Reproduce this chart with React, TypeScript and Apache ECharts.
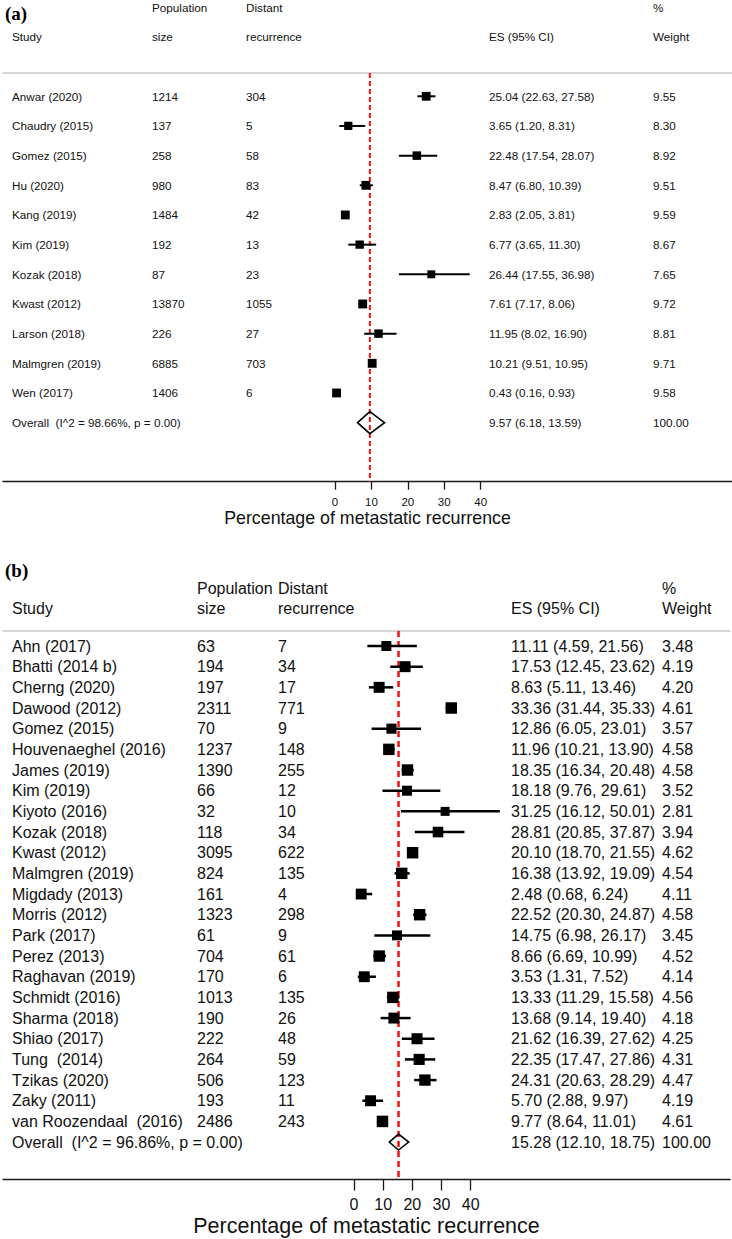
import React, { useEffect, useRef } from "react";
import * as echarts from "echarts";

// ---------- Panel (a) data ----------
const studiesA = [
  "Anwar (2020)", "Chaudry (2015)", "Gomez (2015)", "Hu (2020)", "Kang (2019)", "Kim (2019)",
  "Kozak (2018)", "Kwast (2012)", "Larson (2018)", "Malmgren (2019)", "Wen (2017)",
];
const sizesA = [1214, 137, 258, 980, 1484, 192, 87, 13870, 226, 6885, 1406];
const recurA = [304, 5, 58, 83, 42, 13, 23, 1055, 27, 703, 6];
const esA = [25.04, 3.65, 22.48, 8.47, 2.83, 6.77, 26.44, 7.61, 11.95, 10.21, 0.43];
const lowA = [22.63, 1.2, 17.54, 6.8, 2.05, 3.65, 17.55, 7.17, 8.02, 9.51, 0.16];
const highA = [27.58, 8.31, 28.07, 10.39, 3.81, 11.3, 36.98, 8.06, 16.9, 10.95, 0.93];
const weightA = [9.55, 8.3, 8.92, 9.51, 9.59, 8.67, 7.65, 9.72, 8.81, 9.71, 9.58];
const overallLabelA = "Overall  (I^2 = 98.66%, p = 0.00)";
const overallA = [9.57, 6.18, 13.59];
const overallWeightA = "100.00";

// ---------- Panel (b) data ----------
const studiesB = [
  "Ahn (2017)", "Bhatti (2014 b)", "Cherng (2020)", "Dawood (2012)", "Gomez (2015)",
  "Houvenaeghel (2016)", "James (2019)", "Kim (2019)", "Kiyoto (2016)", "Kozak (2018)",
  "Kwast (2012)", "Malmgren (2019)", "Migdady (2013)", "Morris (2012)", "Park (2017)",
  "Perez (2013)", "Raghavan (2019)", "Schmidt (2016)", "Sharma (2018)", "Shiao (2017)",
  "Tung  (2014)", "Tzikas (2020)", "Zaky (2011)", "van Roozendaal  (2016)",
];
const sizesB = [63, 194, 197, 2311, 70, 1237, 1390, 66, 32, 118, 3095, 824, 161, 1323, 61, 704, 170, 1013, 190, 222, 264, 506, 193, 2486];
const recurB = [7, 34, 17, 771, 9, 148, 255, 12, 10, 34, 622, 135, 4, 298, 9, 61, 6, 135, 26, 48, 59, 123, 11, 243];
const esB = [11.11, 17.53, 8.63, 33.36, 12.86, 11.96, 18.35, 18.18, 31.25, 28.81, 20.1, 16.38, 2.48, 22.52, 14.75, 8.66, 3.53, 13.33, 13.68, 21.62, 22.35, 24.31, 5.7, 9.77];
const lowB = [4.59, 12.45, 5.11, 31.44, 6.05, 10.21, 16.34, 9.76, 16.12, 20.85, 18.7, 13.92, 0.68, 20.3, 6.98, 6.69, 1.31, 11.29, 9.14, 16.39, 17.47, 20.63, 2.88, 8.64];
const highB = [21.56, 23.62, 13.46, 35.33, 23.01, 13.9, 20.48, 29.61, 50.01, 37.87, 21.55, 19.09, 6.24, 24.87, 26.17, 10.99, 7.52, 15.58, 19.4, 27.62, 27.86, 28.29, 9.97, 11.01];
const weightB = [3.48, 4.19, 4.2, 4.61, 3.57, 4.58, 4.58, 3.52, 2.81, 3.94, 4.62, 4.54, 4.11, 4.58, 3.45, 4.52, 4.14, 4.56, 4.18, 4.25, 4.31, 4.47, 4.19, 4.61];
const overallLabelB = "Overall  (I^2 = 96.86%, p = 0.00)";
const overallB = [15.28, 12.1, 18.75];
const overallWeightB = "100.00";

// ---------- Shared labels ----------
const tickValues = [0, 10, 20, 30, 40];
const axisTitle = "Percentage of metastatic recurrence";
const headerTop = ["Population", "Distant", "%"];
const headerBottom = ["Study", "size", "recurrence", "ES (95% CI)", "Weight"];

const SANS = "'Liberation Sans', Arial, sans-serif";
const SERIF = "'Liberation Serif', 'Times New Roman', serif";
const INK = "#111111";

type Layout = {
  left: number; right: number; top: number; bottom: number;
  xmin: number; xmax: number; ymin: number; ymax: number;
  cols: number[]; font: number; titleFont: number; tickFont: number;
  tickLen: number; labelMargin: number; nameGap: number;
  sqK: number; whisker: number; diamondH: number; dash: number[]; dashW: number;
  panelLabel: string; panelLabelY: number; headTopY: number; headBotY: number;
};

const layoutA: Layout = {
  left: 3, right: 732, top: 73, bottom: 481.7,
  xmin: -91.15, xmax: 109, ymin: -0.785, ymax: 12.99,
  cols: [12, 152, 246, 489, 653], font: 11.7, titleFont: 17.8, tickFont: 11.5,
  tickLen: 8, labelMargin: 14, nameGap: 27,
  sqK: 2.85, whisker: 2, diamondH: 11, dash: [5, 3], dashW: 2,
  panelLabel: "(a)", panelLabelY: 13, headTopY: 7, headBotY: 36,
};

const layoutB: Layout = {
  left: 3, right: 730, top: 631, bottom: 1179.5,
  xmin: -120.3, xmax: 128.9, ymin: -0.726, ymax: 25.81,
  cols: [12, 197, 278, 511, 662], font: 16, titleFont: 21.5, tickFont: 16,
  tickLen: 11, labelMargin: 17, nameGap: 35,
  sqK: 5.35, whisker: 2.5, diamondH: 8, dash: [6, 4], dashW: 2.5,
  panelLabel: "(b)", panelLabelY: 570, headTopY: 588, headBotY: 608,
};

const fmt = (v: number) => v.toFixed(2);

function buildPanel(
  idx: number, L: Layout,
  studies: string[], sizes: number[], recur: number[], es: number[], low: number[], high: number[], weight: number[],
  overallLabel: string, overall: number[], overallWeight: string,
) {
  const n = studies.length;
  const grid = { left: L.left, top: L.top, width: L.right - L.left, height: L.bottom - L.top };
  const xAxes = [
    {
      type: "value", gridIndex: idx, position: "bottom", min: L.xmin, max: L.xmax,
      splitLine: { show: false },
      axisLine: { show: true, onZero: false, lineStyle: { color: "#1a1a1a", width: 1.3 } },
      axisTick: { show: true, customValues: tickValues, length: L.tickLen, lineStyle: { color: "#1a1a1a", width: 1.3 } },
      axisLabel: { show: true, customValues: tickValues, fontSize: L.tickFont, fontFamily: SANS, color: INK, margin: L.labelMargin },
      name: axisTitle, nameLocation: "middle", nameGap: L.nameGap,
      nameTextStyle: { fontSize: L.titleFont, fontFamily: SANS, color: INK },
    },
    {
      type: "value", gridIndex: idx, position: "top", min: L.xmin, max: L.xmax,
      splitLine: { show: false },
      axisLine: { show: true, onZero: false, lineStyle: { color: "#c8c8c8", width: 1.5 } },
      axisTick: { show: false }, axisLabel: { show: false },
    },
  ];
  const yAxis = {
    type: "value", gridIndex: idx, inverse: true, min: L.ymin, max: L.ymax, show: false,
  };

  const markData = es.map((v, i) => [v, i, low[i], high[i], weight[i], 0]);
  markData.push([overall[0], n, overall[1], overall[2], 100, 1]);

  const texts: string[][] = studies.map((s, i) => [
    s, String(sizes[i]), String(recur[i]), `${fmt(es[i])} (${fmt(low[i])}, ${fmt(high[i])})`, fmt(weight[i]),
  ]);
  texts.push([overallLabel, "", "", `${fmt(overall[0])} (${fmt(overall[1])}, ${fmt(overall[2])})`, overallWeight]);

  const xAxisIndex = idx * 2;
  const series: any[] = [
    {
      type: "line", xAxisIndex, yAxisIndex: idx, symbol: "none", silent: true, z: 1,
      data: [[overall[0], L.ymin], [overall[0], L.ymax]],
      lineStyle: { color: "#ee1111", width: L.dashW, type: L.dash },
    },
    {
      type: "custom", xAxisIndex, yAxisIndex: idx, z: 3, silent: true,
      encode: { x: 0, y: 1 },
      data: markData,
      renderItem: (_p: any, api: any) => {
        const v = api.value(0), row = api.value(1), lo = api.value(2), hi = api.value(3), w = api.value(4);
        const isOverall = api.value(5) === 1;
        const [cx, cy] = api.coord([v, row]);
        const xl = api.coord([lo, row])[0];
        const xh = api.coord([hi, row])[0];
        if (isOverall) {
          const h = L.diamondH;
          return {
            type: "polygon",
            shape: { points: [[xl, cy], [cx, cy - h], [xh, cy], [cx, cy + h]] },
            style: { fill: "none", stroke: "#000", lineWidth: 1.6 },
          };
        }
        const s = L.sqK * Math.sqrt(w);
        return {
          type: "group",
          children: [
            { type: "line", shape: { x1: xl, y1: cy, x2: xh, y2: cy }, style: { stroke: "#000", lineWidth: L.whisker } },
            { type: "rect", shape: { x: cx - s / 2, y: cy - s / 2, width: s, height: s }, style: { fill: "#000" } },
          ],
        };
      },
    },
    {
      type: "custom", xAxisIndex, yAxisIndex: idx, z: 4, silent: true,
      encode: { x: 0, y: 1 },
      data: texts.map((_, i) => [0, i]),
      renderItem: (p: any, api: any) => {
        const i = p.dataIndex;
        const cy = api.coord([0, api.value(1)])[1];
        return {
          type: "group",
          children: texts[i].map((t, j) => ({
            type: "text", x: L.cols[j], y: cy,
            style: { text: t, fontSize: L.font, fontFamily: SANS, fill: INK, align: "left", verticalAlign: "middle" },
          })),
        };
      },
    },
  ];

  const txt = (text: string, x: number, y: number) => ({
    type: "text", x, y, silent: true,
    style: { text, fontSize: L.font, fontFamily: SANS, fill: INK, align: "left", verticalAlign: "middle" },
  });
  const graphics: any[] = [
    {
      type: "text", x: 5, y: L.panelLabelY, silent: true,
      style: { text: L.panelLabel, fontSize: 19, fontWeight: "bold", fontFamily: SERIF, fill: "#000", align: "left", verticalAlign: "middle" },
    },
    txt(headerTop[0], L.cols[1], L.headTopY),
    txt(headerTop[1], L.cols[2], L.headTopY),
    txt(headerTop[2], L.cols[4], L.headTopY),
    ...headerBottom.map((h, j) => txt(h, L.cols[j], L.headBotY)),
  ];

  return { grid, xAxes, yAxis, series, graphics };
}

export default function App() {
  const ref = useRef<HTMLDivElement>(null);
  useEffect(() => {
    if (!ref.current) return;
    const chart = echarts.init(ref.current, undefined, { renderer: "svg" });
    const a = buildPanel(0, layoutA, studiesA, sizesA, recurA, esA, lowA, highA, weightA, overallLabelA, overallA, overallWeightA);
    const b = buildPanel(1, layoutB, studiesB, sizesB, recurB, esB, lowB, highB, weightB, overallLabelB, overallB, overallWeightB);
    chart.setOption({
      animation: false,
      backgroundColor: "#ffffff",
      grid: [a.grid, b.grid],
      xAxis: [...a.xAxes, ...b.xAxes],
      yAxis: [a.yAxis, b.yAxis],
      series: [...a.series, ...b.series],
      graphic: [...a.graphics, ...b.graphics],
    } as any);
    return () => chart.dispose();
  }, []);
  return (
    <div
      ref={ref}
      style={{ position: "absolute", left: 0, top: 0, width: 732, height: 1239, background: "#fff" }}
    />
  );
}
